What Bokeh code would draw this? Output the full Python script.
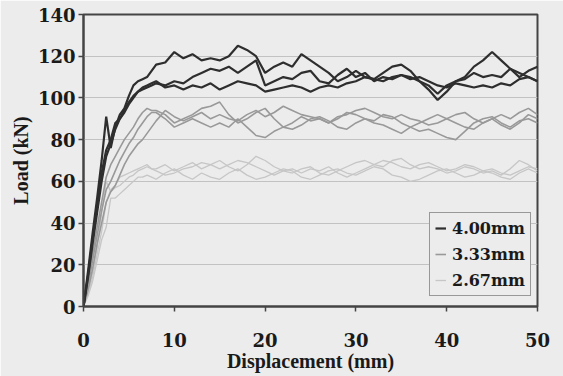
from bokeh.plotting import figure
from bokeh.models import Legend, LegendItem, FixedTicker, Range1d
from bokeh.embed import file_html
from bokeh.resources import INLINE

# Displacement grid (mm)
disp = [0, 0.5, 1, 1.5, 2, 2.5, 3, 3.5, 4, 4.5, 5, 5.5, 6, 6.5, 7, 7.5, 8] + list(range(9, 51))

# 4.00mm specimens (kN)
load_400_a = [0, 17, 35, 52, 70, 91, 76, 86, 92, 95, 101, 106, 108, 109, 110, 113, 116,
              117, 122, 119, 121, 118, 119, 118, 120, 125, 123, 120, 112, 115, 117, 115, 121, 118, 115, 112, 108,
              110, 113, 110, 109, 112, 115, 116, 113, 108, 104, 99, 103, 108, 110, 115, 118, 122, 118, 114, 110, 113, 115]
load_400_b = [0, 15, 32, 48, 64, 75, 80, 88, 90, 94, 98, 101, 103, 104, 105, 106, 107,
              106, 108, 107, 110, 112, 114, 113, 115, 112, 115, 118, 106, 108, 110, 109, 112, 113, 108, 107, 111,
              114, 110, 112, 108, 110, 109, 111, 110, 108, 106, 102, 106, 108, 109, 112, 110, 111, 110, 114, 112, 110, 108]
load_400_c = [0, 14, 30, 45, 60, 72, 78, 85, 90, 93, 97, 100, 103, 105, 106, 107, 108,
              105, 106, 104, 106, 105, 107, 104, 106, 108, 107, 106, 103, 104, 105, 106, 105, 103, 105, 106, 105,
              107, 108, 110, 109, 108, 110, 111, 109, 110, 108, 106, 105, 107, 106, 105, 106, 105, 107, 106, 109, 110, 108]

# 3.33mm specimens (kN)
load_333_a = [0, 12, 25, 38, 50, 62, 68, 72, 76, 80, 83, 86, 90, 93, 95, 94, 94,
              92, 88, 90, 92, 95, 96, 98, 92, 88, 90, 93, 95, 90, 86, 88, 91, 89, 90, 88, 90,
              93, 92, 90, 88, 87, 85, 83, 86, 88, 90, 92, 90, 92, 93, 90, 88, 90, 92, 90, 93, 95, 92]
load_333_b = [0, 10, 22, 34, 46, 56, 60, 65, 70, 74, 78, 81, 85, 88, 91, 93, 93,
              90, 86, 88, 90, 88, 86, 88, 86, 90, 86, 82, 81, 84, 86, 85, 87, 90, 91, 89, 86,
              85, 88, 90, 89, 92, 91, 88, 86, 84, 85, 83, 81, 80, 84, 88, 90, 91, 88, 86, 89, 90, 88]
load_333_c = [0, 8, 18, 30, 40, 50, 55, 58, 63, 68, 72, 75, 78, 80, 83, 86, 89,
              94, 91, 89, 91, 93, 90, 92, 90, 89, 92, 94, 91, 93, 96, 94, 92, 91, 90, 88, 91,
              92, 94, 95, 93, 91, 90, 92, 90, 89, 87, 88, 90, 88, 86, 85, 88, 90, 87, 85, 88, 92, 90]

# 2.67mm specimens (kN)
load_267_a = [0, 7, 16, 28, 45, 60, 55, 57, 58, 60, 62, 63, 65, 66, 67, 66, 66,
              68, 65, 67, 69, 66, 68, 70, 67, 65, 68, 72, 70, 67, 65, 64, 66, 67, 64, 63, 65,
              67, 69, 70, 68, 67, 70, 71, 68, 66, 67, 66, 64, 65, 67, 66, 64, 65, 63, 66, 70, 68, 65]
load_267_b = [0, 5, 12, 22, 32, 38, 52, 52, 54, 56, 58, 60, 62, 62, 63, 62, 61,
              64, 66, 63, 61, 64, 62, 61, 64, 66, 63, 61, 62, 64, 66, 65, 62, 61, 63, 65, 66,
              64, 63, 65, 67, 66, 63, 62, 60, 61, 63, 65, 66, 64, 62, 63, 65, 64, 62, 61, 64, 66, 64]
load_267_c = [0, 6, 14, 25, 36, 50, 56, 58, 62, 63, 64, 65, 66, 67, 68, 66, 65,
              63, 64, 66, 67, 69, 68, 66, 68, 70, 69, 67, 65, 63, 65, 66, 64, 66, 65, 67, 64,
              62, 64, 66, 68, 70, 69, 67, 66, 68, 69, 67, 65, 66, 68, 67, 65, 66, 64, 63, 65, 67, 66]

series_labels = ["4.00mm", "3.33mm", "2.67mm"]
x_ticks = [0, 10, 20, 30, 40, 50]
y_ticks = [0, 20, 40, 60, 80, 100, 120, 140]

groups = [
    (series_labels[0], [load_400_a, load_400_b, load_400_c], "#2e2e2e", 2.2),
    (series_labels[1], [load_333_a, load_333_b, load_333_c], "#999999", 1.6),
    (series_labels[2], [load_267_a, load_267_b, load_267_c], "#c6c6c6", 1.3),
]

BG = "#ececec"
FONT = "DejaVu Serif"
LABEL_FONT = "Liberation Serif"

p = figure(width=563, height=376, output_backend="svg", toolbar_location=None,
           x_range=Range1d(0, 50), y_range=Range1d(0, 140),
           min_border_left=83, min_border_right=26, min_border_top=14, min_border_bottom=70,
           background_fill_color=BG, border_fill_color=BG)

p.outline_line_color = "#444444"
p.outline_line_width = 2

p.xgrid.grid_line_color = None
p.ygrid.grid_line_color = "#c2c2c2"
p.ygrid.grid_line_width = 1

for ax in (p.xaxis[0], p.yaxis[0]):
    ax.axis_line_color = "#444444"
    ax.axis_line_width = 2
    ax.major_tick_line_color = "#444444"
    ax.major_tick_line_width = 1.5
    ax.minor_tick_line_color = None
    ax.major_tick_in = 0
    ax.major_tick_out = 5
    ax.major_label_text_font = FONT
    ax.major_label_text_font_style = "bold"
    ax.major_label_text_font_size = "18px"
    ax.major_label_text_color = "#1a1a1a"
    ax.axis_label_text_font = LABEL_FONT
    ax.axis_label_text_font_style = "bold"
    ax.axis_label_text_font_size = "20px"
    ax.axis_label_text_color = "#1a1a1a"

p.xaxis.ticker = FixedTicker(ticks=x_ticks)
p.yaxis.ticker = FixedTicker(ticks=y_ticks)
p.xaxis.axis_label = "Displacement (mm)"
p.yaxis.axis_label = "Load (kN)"
p.xaxis.major_label_standoff = 21
p.xaxis.axis_label_standoff = 0
p.yaxis.major_label_standoff = 3
p.yaxis.axis_label_standoff = 3

items = []
for label, curves, color, width in reversed(groups):
    first = None
    for loads in curves:
        r = p.line(disp, loads, line_color=color, line_width=width)
        if first is None:
            first = r
    items.append(LegendItem(label=label, renderers=[first]))
items = list(reversed(items))

legend = Legend(items=items, location=(346, 10))
legend.label_text_font = FONT
legend.label_text_font_style = "bold"
legend.label_text_font_size = "16px"
legend.label_text_color = "#1a1a1a"
legend.border_line_color = "#444444"
legend.border_line_width = 1.5
legend.background_fill_color = BG
legend.background_fill_alpha = 1
legend.glyph_width = 11
legend.glyph_height = 20
legend.label_height = 20
legend.label_standoff = 6
legend.spacing = 6
legend.padding = 5
legend.margin = 0
p.add_layout(legend)

open("out.html", "w").write(file_html(p, INLINE))
